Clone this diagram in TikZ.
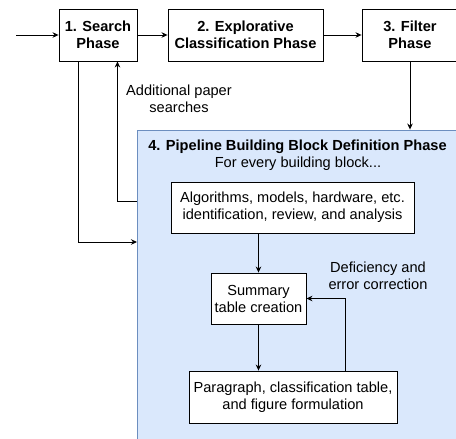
\documentclass[tikz,border=0pt]{standalone}
\usepackage{fontspec}
\setmainfont{Liberation Sans}
\usetikzlibrary{arrows.meta}
\definecolor{phasefill}{HTML}{DAE8FC}
\definecolor{phaseline}{HTML}{6C8EBF}

\begin{document}
\begin{tikzpicture}[x=1pt, y=-1pt, line width=0.9pt,
            box/.style = {draw, fill=white, align=center, inner sep=0pt, font=\fontsize{14.6}{17}\selectfont},
            phase/.style = {box, font=\fontsize{14.6}{17}\selectfont\bfseries, minimum height=52pt},
            note/.style = {align=center, inner sep=0pt, font=\fontsize{14.6}{17}\selectfont},
            arr/.style = {-{Stealth[length=6pt, width=5.5pt]}}]
            \useasboundingbox (0,0) rectangle (456,439);
            \clip (0,0) rectangle (456,439);
            \node[draw=phaseline, fill=phasefill, minimum width=323pt, minimum height=315pt] (pipeline) at (298.5,287.5) {};
            \node[phase, minimum width=78pt] (search) at (98,35) {1. Search\\Phase};
            \node[phase, minimum width=155pt] (explore) at (245.5,35) {2. Explorative\\Classification Phase};
            \node[phase, minimum width=96pt] (filter) at (410,35) {3. Filter\\Phase};
            \node[note, font=\fontsize{14.6}{17}\selectfont\bfseries] (title) at (297.5,147) {4. Pipeline Building Block Definition Phase};
            \node[note] (every) at (298,163.5) {For every building block...};
            \node[box, minimum width=243pt, minimum height=51pt] (ident) at (292.5,207.5) {Algorithms, models, hardware, etc.\\identification, review, and analysis};
            \node[box, minimum width=95pt, minimum height=51pt] (summary) at (258.5,298.5) {Summary\\table creation};
            \node[box, minimum width=208pt, minimum height=52pt] (para) at (293,397) {Paragraph, classification table,\\and figure formulation};
            \node[note] (searches) at (179,98.5) {Additional paper\\searches};
            \node[note] (deficiency) at (378,275.5) {Deficiency and\\error correction};
            \coordinate (start) at (16,35);
            \coordinate (entry) at (137,242);
            \coordinate (back) at (137,201);
            \draw[arr] (start) -- (search);
            \draw[arr] (search) -- (explore);
            \draw[arr] (explore) -- (filter);
            \draw[arr] (filter.south) -- (filter.south |- pipeline.north);
            \draw[arr] ([xshift=20pt]search.south west) |- (entry);
            \draw[arr] (back) -| ([xshift=-20pt]search.south east);
            \draw[arr] (summary.north |- ident.south) -- (summary.north);
            \draw[arr] (summary.south) -- (summary.south |- para.north);
            \draw[arr] ([xshift=52pt]para.north) |- (summary.east);
\end{tikzpicture}
\end{document}
